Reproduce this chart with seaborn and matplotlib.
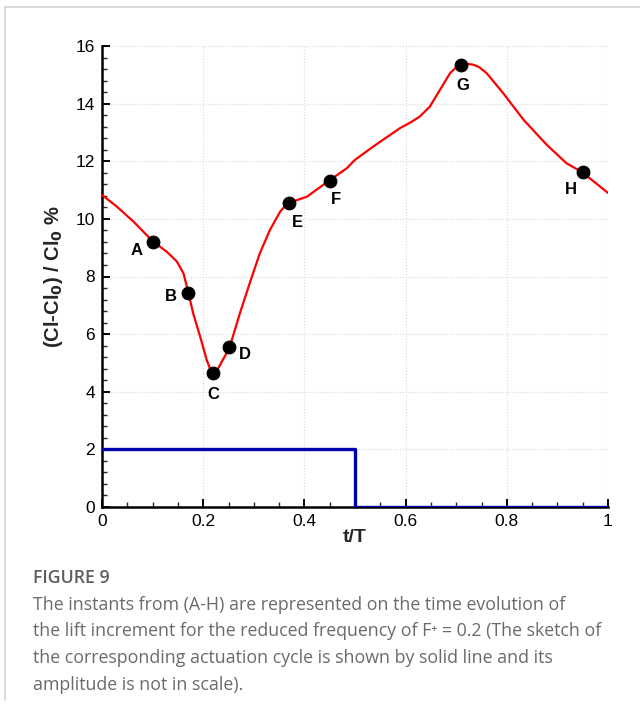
import matplotlib
matplotlib.use("Agg")
import matplotlib.pyplot as plt
from matplotlib.lines import Line2D
from matplotlib.ticker import MultipleLocator
import seaborn as sns
import pandas as pd

# ---- data ----
curve_t = [0.0, 0.029, 0.062, 0.101, 0.128, 0.148, 0.161, 0.171, 0.180, 0.194,
           0.207, 0.214, 0.221, 0.228, 0.237, 0.252, 0.273, 0.292, 0.312, 0.332,
           0.352, 0.362, 0.370, 0.385, 0.405, 0.449, 0.484, 0.500, 0.536, 0.589,
           0.610, 0.628, 0.648, 0.668, 0.688, 0.700, 0.711, 0.722, 0.734, 0.745,
           0.760, 0.793, 0.833, 0.879, 0.918, 0.949, 1.0]
curve_lift = [10.83, 10.43, 9.91, 9.21, 8.86, 8.52, 8.11, 7.42, 6.73, 5.91,
              5.10, 4.78, 4.66, 4.76, 5.05, 5.53, 6.75, 7.77, 8.81, 9.62,
              10.25, 10.45, 10.54, 10.65, 10.77, 11.33, 11.76, 12.05, 12.51, 13.15,
              13.35, 13.55, 13.90, 14.48, 15.06, 15.26, 15.35, 15.38, 15.35, 15.27,
              15.06, 14.36, 13.44, 12.57, 11.93, 11.62, 10.90]

instant_labels = ["A", "B", "C", "D", "E", "F", "G", "H"]
instant_t = [0.10, 0.17, 0.22, 0.25, 0.37, 0.45, 0.71, 0.95]
instant_lift = [9.20, 7.42, 4.66, 5.55, 10.54, 11.32, 15.35, 11.63]

pulse_t = [0.0, 0.5, 1.0]
pulse_amp = [2.0, 0.0, 0.0]

x_ticks = [0, 0.2, 0.4, 0.6, 0.8, 1]
x_ticklabels = ["0", "0.2", "0.4", "0.6", "0.8", "1"]
y_ticks = [0, 2, 4, 6, 8, 10, 12, 14, 16]

caption_title = "FIGURE 9"
caption_lines = [
    "The instants from (A-H) are represented on the time evolution of",
    "the lift increment for the reduced frequency of F\u207a = 0.2 (The sketch of",
    "the corresponding actuation cycle is shown by solid line and its",
    "amplitude is not in scale).",
]

# ---- styling ----
sns.set_theme(style="white")
plt.rcParams["font.family"] = ["Liberation Sans", "DejaVu Sans"]

fig = plt.figure(figsize=(6.4, 7.09), dpi=100)
ax = fig.add_axes([102 / 640, 1 - 507 / 709, 506 / 640, 461 / 709])

curve_df = pd.DataFrame({"t": curve_t, "lift": curve_lift})
pulse_df = pd.DataFrame({"t": pulse_t, "amp": pulse_amp})
inst_df = pd.DataFrame({"t": instant_t, "lift": instant_lift, "lab": instant_labels})

sns.lineplot(data=pulse_df, x="t", y="amp", ax=ax, color="#0000a8", lw=2.4,
             drawstyle="steps-post", estimator=None, sort=False, zorder=3)
sns.lineplot(data=curve_df, x="t", y="lift", ax=ax, color="#ff0000", lw=1.6,
             estimator=None, sort=False, zorder=4, solid_joinstyle="round")
sns.scatterplot(data=inst_df, x="t", y="lift", ax=ax, color="black", s=85,
                edgecolor="black", zorder=5)

offsets = {"A": (-16, -9), "B": (-17, -3), "C": (0, -22), "D": (16, -7),
           "E": (8, -19), "F": (6, -19), "G": (2, -21), "H": (-12, -18)}
for lab, t, v in zip(instant_labels, instant_t, instant_lift):
    ax.annotate(lab, (t, v), xytext=offsets[lab], textcoords="offset pixels",
                ha="center", va="center", fontsize=12, fontweight="bold",
                color="black")

ax.set_xlim(0, 1)
ax.set_ylim(0, 16)
ax.set_xticks(x_ticks)
ax.set_xticklabels(x_ticklabels)
ax.set_yticks(y_ticks)
ax.xaxis.set_minor_locator(MultipleLocator(0.05))
ax.yaxis.set_minor_locator(MultipleLocator(0.4))
ax.tick_params(which="major", direction="in", length=6, width=1.4, labelsize=12.5,
               colors="black", pad=5, bottom=True, left=True)
ax.tick_params(which="minor", direction="in", length=3.5, width=1.0,
               bottom=True, left=True)
ax.grid(True, which="major", linestyle=":", color="#d8d8d8", lw=0.8)

for s in ["top", "right"]:
    ax.spines[s].set_visible(False)
for s in ["left", "bottom"]:
    ax.spines[s].set_linewidth(1.8)
    ax.spines[s].set_color("black")

ax.set_xlabel("t/T", fontsize=14, fontweight="bold", labelpad=0)
ax.set_ylabel("(Cl-Cl$_\\mathbf{0}$) / Cl$_\\mathbf{0}$ %", fontsize=14.5,
              fontweight="bold", labelpad=8)
ax.patch.set_alpha(0)

# frame lines
fig.add_artist(Line2D([5 / 640, 1], [1 - 7 / 709, 1 - 7 / 709],
                      transform=fig.transFigure, color="#d4d4d4", lw=1.2))
fig.add_artist(Line2D([5 / 640, 5 / 640], [1 - 7 / 709, 1 - 700 / 709],
                      transform=fig.transFigure, color="#d4d4d4", lw=1.2))

# caption
fig.text(33 / 640, 1 - 578 / 709, caption_title, fontsize=12.8,
         family=["Open Sans", "DejaVu Sans"], fontweight="semibold",
         color="#5e5e5e", va="center", ha="left")
for i, line in enumerate(caption_lines):
    fig.text(33 / 640, 1 - (605 + 26.5 * i) / 709, line, fontsize=12.8,
             family=["Open Sans", "DejaVu Sans"], color="#6a6a6a",
             va="center", ha="left")

fig.savefig("out.png", dpi=100)
